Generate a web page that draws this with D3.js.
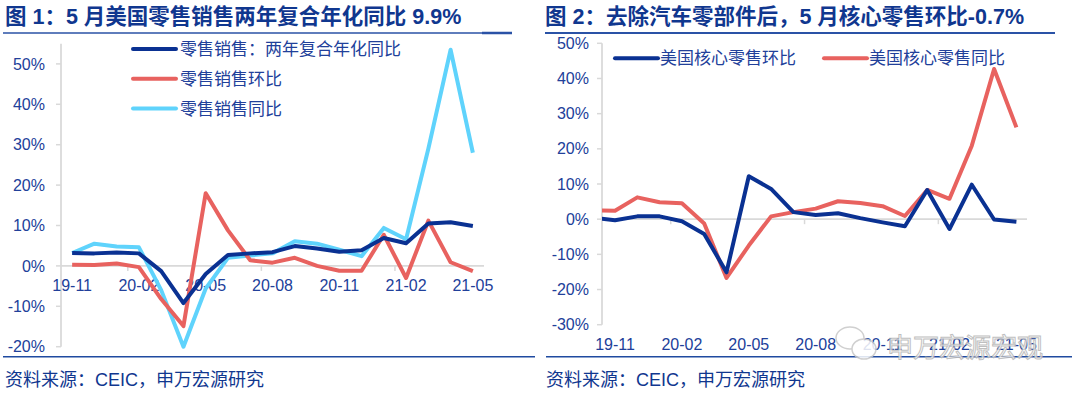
<!DOCTYPE html>
<html>
<head>
<meta charset="utf-8">
<script src="https://cdn.jsdelivr.net/npm/d3@7"></script>
<style>
  body { margin: 0; background: #fff; }
  svg { display: block; font-family: "Liberation Sans", "Noto Sans CJK SC", sans-serif; }
</style>
</head>
<body>
<script>
const width = 1080;
const height = 395;

// left chart data: 19-11 .. 21-05
const monthsL = ["19-11", "19-12", "20-01", "20-02", "20-03", "20-04", "20-05", "20-06", "20-07", "20-08",
  "20-09", "20-10", "20-11", "20-12", "21-01", "21-02", "21-03", "21-04", "21-05"];
const salesTwoYear = [3.2, 3.1, 3.3, 3.1, -1.3, -9.2, -2.0, 2.7, 3.1, 3.4, 4.9, 4.3, 3.5, 3.9, 6.9, 5.6, 10.5, 10.8, 9.9];
const salesMoM = [0.3, 0.2, 0.6, -0.3, -8.2, -14.9, 18.0, 8.8, 1.4, 0.8, 2.0, 0.0, -1.2, -1.2, 7.7, -3.0, 11.2, 0.9, -1.3];
const salesYoY = [3.2, 5.5, 4.8, 4.6, -6.0, -20.0, -5.6, 2.0, 2.6, 3.1, 6.1, 5.5, 4.0, 2.4, 9.4, 6.6, 29.0, 53.5, 28.0];

// right chart data: 19-10 .. 21-05 (first month falls left of the axis)
const monthsR = ["19-10"].concat(monthsL);
const coreMoM = [0.4, -0.3, 0.8, 0.8, -0.6, -4.2, -15.1, 12.2, 8.6, 2.0, 1.2, 1.7, 0.3, -0.9, -2.0, 8.3, -2.8, 9.8, -0.1, -0.7];
const coreYoY = [2.55, 2.4, 6.2, 4.8, 4.5, -1.2, -16.7, -7.5, 0.8, 2.0, 3.0, 5.1, 4.6, 3.7, 0.9, 8.3, 5.8, 20.9, 42.7, 26.1];

const tickMonths = ["19-11", "20-02", "20-05", "20-08", "20-11", "21-02", "21-05"];
const yTicksL = [-20, -10, 0, 10, 20, 30, 40, 50];
const yTicksR = [-30, -20, -10, 0, 10, 20, 30, 40, 50];

const navy = "#0a3192";
const red = "#e8625f";
const cyan = "#5fd3fc";
const textBlue = "#21409a";
const titleBlue = "#10378f";
const gridGray = "#d9d9d9";

const svg = d3.select("body")
  .append("svg")
  .attr("width", width)
  .attr("height", height);

// titles and frame lines
svg.append("text")
  .attr("x", 5).attr("y", 24)
  .attr("font-size", 21.5).attr("font-weight", "bold")
  .attr("fill", titleBlue)
  .text("图 1：5 月美国零售销售两年复合年化同比 9.9%");

svg.append("text")
  .attr("x", 545).attr("y", 24)
  .attr("font-size", 21.5).attr("font-weight", "bold")
  .attr("fill", titleBlue)
  .text("图 2：去除汽车零部件后，5 月核心零售环比-0.7%");

svg.append("line").attr("x1", 3).attr("x2", 512).attr("y1", 33).attr("y2", 33)
  .attr("stroke", "#2a52a6").attr("stroke-width", 1.5);
svg.append("line").attr("x1", 482).attr("x2", 512).attr("y1", 33).attr("y2", 33)
  .attr("stroke", "#2a52a6").attr("stroke-width", 2.5);
svg.append("line").attr("x1", 545).attr("x2", 1055).attr("y1", 33).attr("y2", 33)
  .attr("stroke", "#2a52a6").attr("stroke-width", 2);

svg.append("line").attr("x1", 3).attr("x2", 535).attr("y1", 356.7).attr("y2", 356.7)
  .attr("stroke", "#1f4aa0").attr("stroke-width", 1.5);
svg.append("line").attr("x1", 546).attr("x2", 1072).attr("y1", 356.7).attr("y2", 356.7)
  .attr("stroke", "#1f4aa0").attr("stroke-width", 1.5);

svg.append("text").attr("x", 5).attr("y", 386)
  .attr("font-size", 18).attr("fill", titleBlue)
  .text("资料来源：CEIC，申万宏源研究");
svg.append("text").attr("x", 546).attr("y", 386)
  .attr("font-size", 18).attr("fill", titleBlue)
  .text("资料来源：CEIC，申万宏源研究");

// ---------- left chart ----------
const xL = d3.scaleBand().domain(monthsL).range([61, 484]);
const yL = d3.scaleLinear().domain([-20, 55]).range([346.7, 43.7]);
const cx = d => xL(d) + xL.bandwidth() / 2;

const left = svg.append("g");

left.append("line")
  .attr("x1", 61).attr("x2", 61).attr("y1", yL(55)).attr("y2", yL(-20))
  .attr("stroke", gridGray).attr("stroke-width", 1.75);

left.selectAll(".ytick")
  .data(yTicksL).enter().append("line")
  .attr("x1", 56).attr("x2", 61)
  .attr("y1", d => yL(d)).attr("y2", d => yL(d))
  .attr("stroke", gridGray).attr("stroke-width", 1.5);

left.selectAll(".ylab")
  .data(yTicksL).enter().append("text")
  .attr("x", 45).attr("y", d => yL(d)).attr("dy", "0.35em")
  .attr("text-anchor", "end")
  .attr("font-size", 16).attr("fill", textBlue)
  .text(d => d + "%");

left.append("line")
  .attr("x1", 61).attr("x2", 484).attr("y1", yL(0)).attr("y2", yL(0))
  .attr("stroke", gridGray).attr("stroke-width", 1.75);

left.selectAll(".xtick")
  .data([3, 9, 15]).enter().append("line")
  .attr("x1", i => xL(monthsL[i])).attr("x2", i => xL(monthsL[i]))
  .attr("y1", yL(0)).attr("y2", yL(0) + 5)
  .attr("stroke", gridGray).attr("stroke-width", 1.5);

left.selectAll(".xlab")
  .data(tickMonths).enter().append("text")
  .attr("x", d => cx(d)).attr("y", 285.5).attr("dy", "0.35em")
  .attr("text-anchor", "middle")
  .attr("font-size", 16).attr("fill", textBlue)
  .text(d => d);

const lineL = d3.line()
  .x((d, i) => cx(monthsL[i]))
  .y(d => yL(d));

[[salesYoY, cyan], [salesMoM, red], [salesTwoYear, navy]].forEach(([s, c]) => {
  left.append("path")
    .attr("d", lineL(s))
    .attr("fill", "none")
    .attr("stroke", c)
    .attr("stroke-width", 4)
    .attr("stroke-linejoin", "round");
});

// legend
const legendL = [["零售销售：两年复合年化同比", navy], ["零售销售环比", red], ["零售销售同比", cyan]];
const lg = left.selectAll(".leg").data(legendL).enter().append("g")
  .attr("transform", (d, i) => `translate(133, ${49 + i * 29.7})`);
lg.append("line").attr("x1", 0).attr("x2", 43)
  .attr("stroke", d => d[1]).attr("stroke-width", 4).attr("stroke-linecap", "round");
lg.append("text").attr("x", 47).attr("dy", "0.36em")
  .attr("font-size", 17).attr("fill", textBlue)
  .text(d => d[0]);

// ---------- right chart ----------
const xR = d3.scalePoint().domain(monthsR).range([592.7, 1016.4]);
const yR = d3.scaleLinear().domain([-30, 50]).range([324.7, 43.3]);

const right = svg.append("g");

svg.append("clipPath").attr("id", "plotR")
  .append("rect").attr("x", 602).attr("y", 30).attr("width", 470).attr("height", 320);

right.append("line")
  .attr("x1", 602).attr("x2", 602).attr("y1", yR(50)).attr("y2", yR(-30))
  .attr("stroke", gridGray).attr("stroke-width", 1.75);

right.selectAll(".ytick")
  .data(yTicksR).enter().append("line")
  .attr("x1", 597).attr("x2", 602)
  .attr("y1", d => yR(d)).attr("y2", d => yR(d))
  .attr("stroke", gridGray).attr("stroke-width", 1.5);

right.selectAll(".ylab")
  .data(yTicksR).enter().append("text")
  .attr("x", 589).attr("y", d => yR(d)).attr("dy", "0.35em")
  .attr("text-anchor", "end")
  .attr("font-size", 16).attr("fill", textBlue)
  .text(d => d + "%");

right.append("line")
  .attr("x1", 602).attr("x2", 1027).attr("y1", yR(0)).attr("y2", yR(0))
  .attr("stroke", gridGray).attr("stroke-width", 1.75);

right.selectAll(".xtick")
  .data(["20-02", "20-08", "21-02"]).enter().append("line")
  .attr("x1", d => xR(d) - xR.step() / 2).attr("x2", d => xR(d) - xR.step() / 2)
  .attr("y1", yR(0)).attr("y2", yR(0) + 5)
  .attr("stroke", gridGray).attr("stroke-width", 1.5);

right.selectAll(".xlab")
  .data(tickMonths).enter().append("text")
  .attr("x", d => xR(d)).attr("y", 344).attr("dy", "0.35em")
  .attr("text-anchor", "middle")
  .attr("font-size", 16).attr("fill", textBlue)
  .text(d => d);

const lineR = d3.line()
  .x((d, i) => xR(monthsR[i]))
  .y(d => yR(d));

[[coreYoY, red], [coreMoM, navy]].forEach(([s, c]) => {
  right.append("path")
    .attr("d", lineR(s))
    .attr("clip-path", "url(#plotR)")
    .attr("fill", "none")
    .attr("stroke", c)
    .attr("stroke-width", 4)
    .attr("stroke-linejoin", "round");
});

const legendR = [["美国核心零售环比", navy, 615], ["美国核心零售同比", red, 824]];
const rg = right.selectAll(".leg").data(legendR).enter().append("g")
  .attr("transform", d => `translate(${d[2]}, 58.3)`);
rg.append("line").attr("x1", 0).attr("x2", 43)
  .attr("stroke", d => d[1]).attr("stroke-width", 4).attr("stroke-linecap", "round");
rg.append("text").attr("x", 45).attr("dy", "0.36em")
  .attr("font-size", 17).attr("fill", textBlue)
  .text(d => d[0]);

// watermark
const wm = svg.append("g").attr("opacity", 0.85);
wm.append("ellipse").attr("cx", 850).attr("cy", 338).attr("rx", 14).attr("ry", 11)
  .attr("fill", "#fff").attr("stroke", "#c8c8c8").attr("stroke-width", 1.5);
wm.append("ellipse").attr("cx", 864).attr("cy", 349).attr("rx", 12).attr("ry", 10)
  .attr("fill", "#fff").attr("stroke", "#c8c8c8").attr("stroke-width", 1.5);
wm.append("text").attr("x", 887).attr("y", 357)
  .attr("font-size", 26).attr("font-family", "Noto Sans CJK SC")
  .attr("fill", "#fff").attr("stroke", "#b5b5b5").attr("stroke-width", 1)
  .text("申万宏源宏观");
</script>
</body>
</html>
